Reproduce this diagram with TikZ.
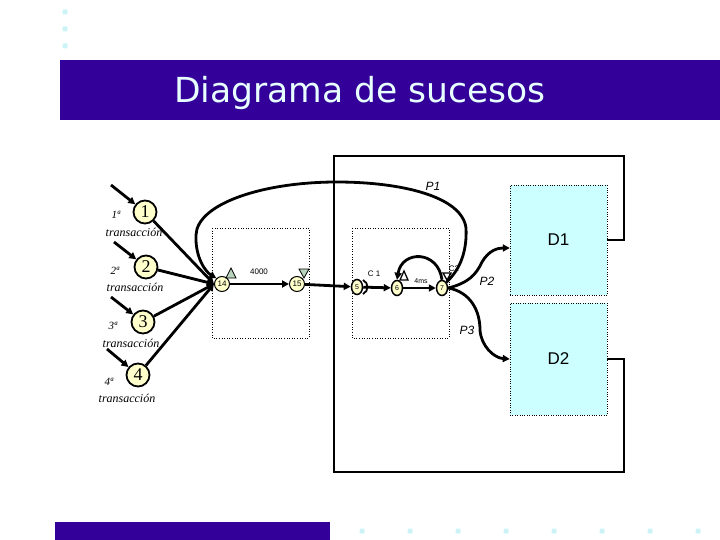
\documentclass[tikz,border=0pt]{standalone}
\usepackage{fontspec}
\setmainfont{Liberation Serif}
\setsansfont{Liberation Sans}
\newfontfamily\titlefont{DejaVu Sans}
\usetikzlibrary{arrows.meta,shapes.geometric,calc}
\definecolor{banner}{HTML}{330099}
\definecolor{ycream}{HTML}{FFFFCC}
\definecolor{lcyan}{HTML}{CCFFFF}
\definecolor{dotc}{HTML}{CCF4F6}
\definecolor{trig}{HTML}{B8D4BC}
\definecolor{titlec}{HTML}{E8FFFF}
\begin{document}
\begin{tikzpicture}[x=1pt,y=-1pt,
  tl/.style={line width=2.8pt},
  arr/.style={-{Triangle[length=7pt,width=7pt]}},
  trans/.style={circle, draw, line width=1.8pt, fill=ycream, minimum size=23pt, inner sep=0pt, font=\fontsize{18}{18}\selectfont},
  smallev/.style={circle, draw, line width=1pt, fill=ycream, minimum size=15pt, inner sep=0pt, font=\sffamily\fontsize{8}{8}\selectfont},
  ev/.style={ellipse, draw, line width=1.5pt, fill=ycream, minimum width=11pt, minimum height=15pt, inner sep=0pt, font=\sffamily\fontsize{7}{7}\selectfont},
  dbox/.style={draw, dotted, fill=lcyan, minimum width=97pt, inner sep=0pt, font=\sffamily\fontsize{17}{17}\selectfont},
  ordl/.style={font=\itshape\fontsize{11}{11}\selectfont},
  trl/.style={font=\itshape\fontsize{12}{12}\selectfont},
  plab/.style={font=\sffamily\itshape\fontsize{12}{12}\selectfont},
  tinyl/.style={font=\sffamily\fontsize{8}{8}\selectfont},
  dotsq/.style={fill=dotc, minimum size=5pt, inner sep=0pt, rounded corners=1pt}
]
\useasboundingbox (0,0) rectangle (720,540);
% decorations
\node[dotsq] (d1) at (65,12) {};
\node[dotsq] (d2) at (65,29) {};
\node[dotsq] (d3) at (65,46) {};
\fill[banner] (60,60) rectangle (720,120);
\node[text=titlec, font=\titlefont\fontsize{34.5}{34.5}\selectfont] (title) at (360,93) {Diagrama de sucesos};
\fill[banner] (55,522) rectangle (330,540);
\foreach \i/\x in {1/362,2/410,3/458,4/506,5/554,6/602,7/650,8/698}
  \node[dotsq] (b\i) at (\x,531) {};

% dotted frames
\draw[dotted, line width=0.6pt] (212,228) rectangle (309,338);
\draw[dotted, line width=0.6pt] (352,228) rectangle (449,338);

% D boxes
\node[dbox, minimum height=110pt] (D1) at (558.5,240) {D1};
\node[dbox, minimum height=112pt] (D2) at (558.5,359) {D2};

% big loop
\draw[tl] (D1.east) -- (624,240) -- (624,156) -- (334,156) -- (334,472) -- (624,472) -- (624,359) -- (D2.east);

% transactions
\node[trans] (t1) at (145,212) {1};
\node[trans] (t2) at (146,267) {2};
\node[trans] (t3) at (143,322) {3};
\node[trans] (t4) at (138,375) {4};
\node[ordl] (o1) at (116,215) {1ª};
\node[ordl] (o2) at (115,271) {2ª};
\node[ordl] (o3) at (113,326) {3ª};
\node[ordl] (o4) at (109,382) {4ª};
\node[trl] (l1) at (134,232) {transacción};
\node[trl] (l2) at (135,287) {transacción};
\node[trl] (l3) at (131,343) {transacción};
\node[trl] (l4) at (127,398) {transacción};
\coordinate (s1) at (111,185);
\coordinate (s2) at (114,242);
\coordinate (s3) at (111,297);
\coordinate (s4) at (107,349);
\foreach \i in {1,2,3,4} \draw[tl, arr] (s\i) -- (t\i);

% events
\node[smallev] (n14) at (222,284) {14};
\node[smallev] (n15) at (297,284) {15};
\node[ev] (n5) at (357,287) {5};
\node[ev] (n6) at (397,288) {6};
\node[ev] (n7) at (442,288) {7};

\foreach \i in {1,2,3,4} \draw[tl, arr] (t\i) -- (n14.west);

\draw[tl, arr] (n14) -- (n15);
\draw[tl, arr] (n15) -- (n5);
\draw[tl, arr] (n5) -- (n6);
\draw[line width=1.8pt, arr] (n6) -- (n7);
\draw[tl, arr] (n7.north) .. controls (438,250) and (402,250) .. (n6.north);

% P curves
\draw[tl, arr] (n7.north east) .. controls (462,268) and (467,248) .. (466,228)
   .. controls (462,196) and (400,182) .. (337,182)
   .. controls (262,182) and (197,204) .. (196,235)
   .. controls (195,258) and (206,272) .. (n14.north west);
\draw[tl, arr] (n7.east) .. controls (468,283) and (476,275) .. (482,262)
   .. controls (489,250) and (498,248) .. ($(D1.west)+(0,8)$);
\draw[tl, arr] (n7.east) .. controls (470,292) and (480,310) .. (480,330)
   .. controls (481,346) and (494,358) .. (D2.west);

% markers
\filldraw[fill=trig, draw=black, line width=0.8pt] (226,278) -- (236,278) -- (231,268) -- cycle;
\filldraw[fill=trig, draw=black, line width=0.8pt] (299,269) -- (309,269) -- (304,278) -- cycle;
\draw[line width=1.8pt] (363,280) .. controls (369,283) and (369,291) .. (363,294);
\draw[line width=1.3pt] (400,280) -- (408,280) -- (404,271) -- cycle;
\draw[line width=1.3pt] (443,273) -- (451,273) -- (447,280) -- cycle;
\node[tinyl] (c1) at (374,274) {C 1};
\node[tinyl] (c2) at (454,269) {C2};
\node[tinyl] (c4000) at (259,272) {4000};
\node[tinyl, font=\sffamily\fontsize{7}{7}\selectfont] (ms) at (421,281) {4ms};
\node[plab] (p1) at (433,186) {P1};
\node[plab] (p2) at (487,281) {P2};
\node[plab] (p3) at (467,330) {P3};
\end{tikzpicture}
\end{document}
